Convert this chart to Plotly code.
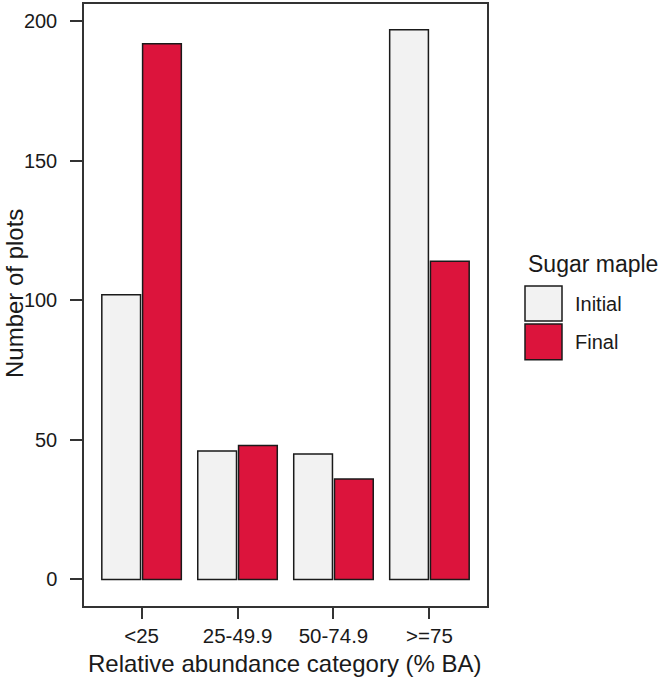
import plotly.graph_objects as go

categories = ["<25", "25-49.9", "50-74.9", ">=75"]
initial_values = [102, 46, 45, 197]
final_values = [192, 48, 36, 114]
series_names = ["Initial", "Final"]
series_colors = ["#f2f2f2", "#dc143c"]
legend_title = "Sugar maple"
x_title = "Relative abundance category (% BA)"
y_title = "Number of plots"
y_ticks = [0, 50, 100, 150, 200]

W, H = 664, 677
L, R, T, B = 84, 487, 2, 606  # plot area in pixels

FONT = "Liberation Sans, Arial, sans-serif"
TXT = "#1a1a1a"

fig = go.Figure()
for name, vals, col in zip(series_names, [initial_values, final_values], series_colors):
    fig.add_trace(go.Bar(
        x=categories, y=vals, name=name,
        marker=dict(color=col, line=dict(color="#1a1a1a", width=1.5)),
        showlegend=False,
    ))

def px_x(p):
    return (p - L) / (R - L)

def px_y(p):
    return (B - p) / (B - T)

shapes = []
annotations = []
# manual legend
sw = [(285, 320), (323, 359)]
for (y0, y1), col, name in zip(sw, series_colors, series_names):
    shapes.append(dict(type="rect", xref="paper", yref="paper",
                       x0=px_x(525), x1=px_x(562), y0=px_y(y1), y1=px_y(y0),
                       fillcolor=col, line=dict(color="#1a1a1a", width=1.5)))
    annotations.append(dict(text=name, xref="paper", yref="paper",
                            x=px_x(573), y=px_y((y0 + y1) / 2),
                            xanchor="left", yanchor="middle", showarrow=False,
                            font=dict(size=20, family=FONT, color=TXT)))
annotations.append(dict(text=legend_title, xref="paper", yref="paper",
                        x=px_x(526), y=px_y(263),
                        xanchor="left", yanchor="middle", showarrow=False,
                        font=dict(size=23, family=FONT, color=TXT)))
# axis titles
annotations.append(dict(text=x_title, xref="paper", yref="paper",
                        x=px_x(285), y=px_y(663.5),
                        xanchor="center", yanchor="middle", showarrow=False,
                        font=dict(size=24, family=FONT, color=TXT)))
annotations.append(dict(text=y_title, xref="paper", yref="paper",
                        x=px_x(14.5), y=px_y(292.5), textangle=-90,
                        xanchor="center", yanchor="middle", showarrow=False,
                        font=dict(size=24, family=FONT, color=TXT)))

fig.update_layout(
    width=W, height=H,
    margin=dict(l=L, r=W - R, t=T, b=H - B, pad=0),
    paper_bgcolor="white", plot_bgcolor="white",
    barmode="group", bargap=0.15, bargroupgap=0.05,
    font=dict(family=FONT, color=TXT),
    shapes=shapes, annotations=annotations,
    xaxis=dict(
        range=[-0.6, 3.6], showgrid=False, zeroline=False,
        showline=True, linecolor="#333333", linewidth=1.5, mirror=True,
        ticks="outside", ticklen=11, tickwidth=1.5, tickcolor="#333333",
        tickfont=dict(size=20.5, family=FONT, color=TXT),
    ),
    yaxis=dict(
        range=[-9.5, 206.2], showgrid=False, zeroline=False,
        showline=True, linecolor="#333333", linewidth=1.5, mirror=True,
        ticks="outside", ticklen=12, tickwidth=1.5, tickcolor="#333333",
        tickvals=y_ticks, ticklabelposition="outside", ticklabelstandoff=9,
        tickfont=dict(size=20, family=FONT, color=TXT),
    ),
)

fig.write_html("out.html")
